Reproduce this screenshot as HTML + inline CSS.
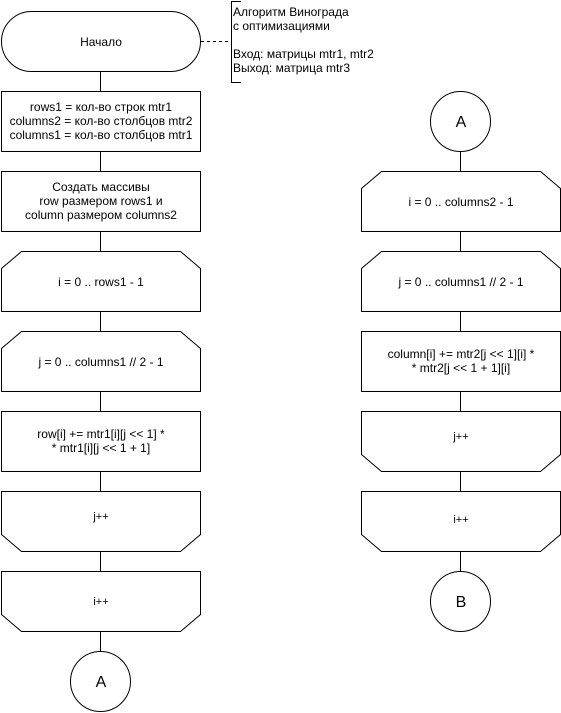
<!DOCTYPE html>
<html><head><meta charset="utf-8"><style>html,body{margin:0;padding:0;background:#fff}svg{display:block}</style></head>
<body>
<svg width="561" height="713" viewBox="0 0 561 713" xmlns="http://www.w3.org/2000/svg" font-family="Liberation Sans, Arial, sans-serif" font-size="12" fill="none" stroke="#000" stroke-width="1">
<g stroke="#000">
<line x1="100.5" y1="71" x2="100.5" y2="91"/>
<line x1="100.5" y1="151" x2="100.5" y2="171"/>
<line x1="100.5" y1="231" x2="100.5" y2="251"/>
<line x1="100.5" y1="311" x2="100.5" y2="331"/>
<line x1="100.5" y1="391" x2="100.5" y2="411"/>
<line x1="100.5" y1="471" x2="100.5" y2="491"/>
<line x1="100.5" y1="551" x2="100.5" y2="571"/>
<line x1="100.5" y1="631" x2="100.5" y2="651"/>
<line x1="460.5" y1="151" x2="460.5" y2="171"/>
<line x1="460.5" y1="231" x2="460.5" y2="251"/>
<line x1="460.5" y1="311" x2="460.5" y2="331"/>
<line x1="460.5" y1="391" x2="460.5" y2="411"/>
<line x1="460.5" y1="471" x2="460.5" y2="491"/>
<line x1="460.5" y1="551" x2="460.5" y2="571"/>
<rect x="1.5" y="11.5" width="199" height="60" rx="30" ry="30" fill="#fff"/>
<line x1="201" y1="41.5" x2="231" y2="41.5" stroke-dasharray="3,3"/>
<path d="M241 1.5 H231.5 V82.5 H241"/>
<rect x="1.5" y="91.5" width="199" height="60" fill="#fff"/>
<rect x="1.5" y="171.5" width="199" height="60" fill="#fff"/>
<path d="M21.5 251.5 H180.5 L200.5 268.5 V311.5 H1.5 V268.5 Z" fill="#fff"/>
<path d="M21.5 331.5 H180.5 L200.5 348.5 V391.5 H1.5 V348.5 Z" fill="#fff"/>
<rect x="1.5" y="411.5" width="199" height="60" fill="#fff"/>
<path d="M1.5 491.5 H200.5 V534.5 L180.5 551.5 H21.5 L1.5 534.5 Z" fill="#fff"/>
<path d="M1.5 571.5 H200.5 V614.5 L180.5 631.5 H21.5 L1.5 614.5 Z" fill="#fff"/>
<circle cx="100.5" cy="681.5" r="30" fill="#fff"/>
<circle cx="460.5" cy="121.5" r="30" fill="#fff"/>
<path d="M381.5 171.5 H540.5 L560.5 188.5 V231.5 H361.5 V188.5 Z" fill="#fff"/>
<path d="M381.5 251.5 H540.5 L560.5 268.5 V311.5 H361.5 V268.5 Z" fill="#fff"/>
<rect x="361.5" y="331.5" width="199" height="60" fill="#fff"/>
<path d="M361.5 411.5 H560.5 V454.5 L540.5 471.5 H381.5 L361.5 454.5 Z" fill="#fff"/>
<path d="M361.5 491.5 H560.5 V534.5 L540.5 551.5 H381.5 L361.5 534.5 Z" fill="#fff"/>
<circle cx="460.5" cy="601.5" r="30" fill="#fff"/>
</g>
<g fill="#000" stroke="none" text-anchor="middle">
<text x="101" y="46">Начало</text>
<text x="101" y="111">rows1 = кол-во строк mtr1</text>
<text x="101" y="125">columns2 = кол-во столбцов mtr2</text>
<text x="101" y="139">columns1 = кол-во столбцов mtr1</text>
<text x="101" y="191">Создать массивы</text>
<text x="101" y="205">row размером rows1 и</text>
<text x="101" y="219">column размером columns2</text>
<text x="101" y="286">i = 0 .. rows1 - 1</text>
<text x="101" y="366">j = 0 .. columns1 // 2 - 1</text>
<text x="101" y="438">row[i] += mtr1[i][j &lt;&lt; 1] *</text>
<text x="101" y="452">* mtr1[i][j &lt;&lt; 1 + 1]</text>
<text x="101" y="520" font-size="11">j++</text>
<text x="101" y="605" font-size="11">i++</text>
<text x="101" y="687" font-size="16">A</text>
<text x="461" y="127" font-size="16">A</text>
<text x="461" y="206">i = 0 .. columns2 - 1</text>
<text x="461" y="286">j = 0 .. columns1 // 2 - 1</text>
<text x="461" y="358">column[i] += mtr2[j &lt;&lt; 1][i] *</text>
<text x="461" y="372">* mtr2[j &lt;&lt; 1 + 1][i]</text>
<text x="461" y="440" font-size="11">j++</text>
<text x="461" y="523" font-size="11">i++</text>
<text x="461" y="607" font-size="16">B</text>
</g>
<g fill="#000" stroke="none" text-anchor="start">
<text x="233" y="16">Алгоритм Винограда</text>
<text x="233" y="30">с оптимизациями</text>
<text x="233" y="58">Вход: матрицы mtr1, mtr2</text>
<text x="233" y="72">Выход: матрица mtr3</text>
</g>
</svg>
</body></html>
